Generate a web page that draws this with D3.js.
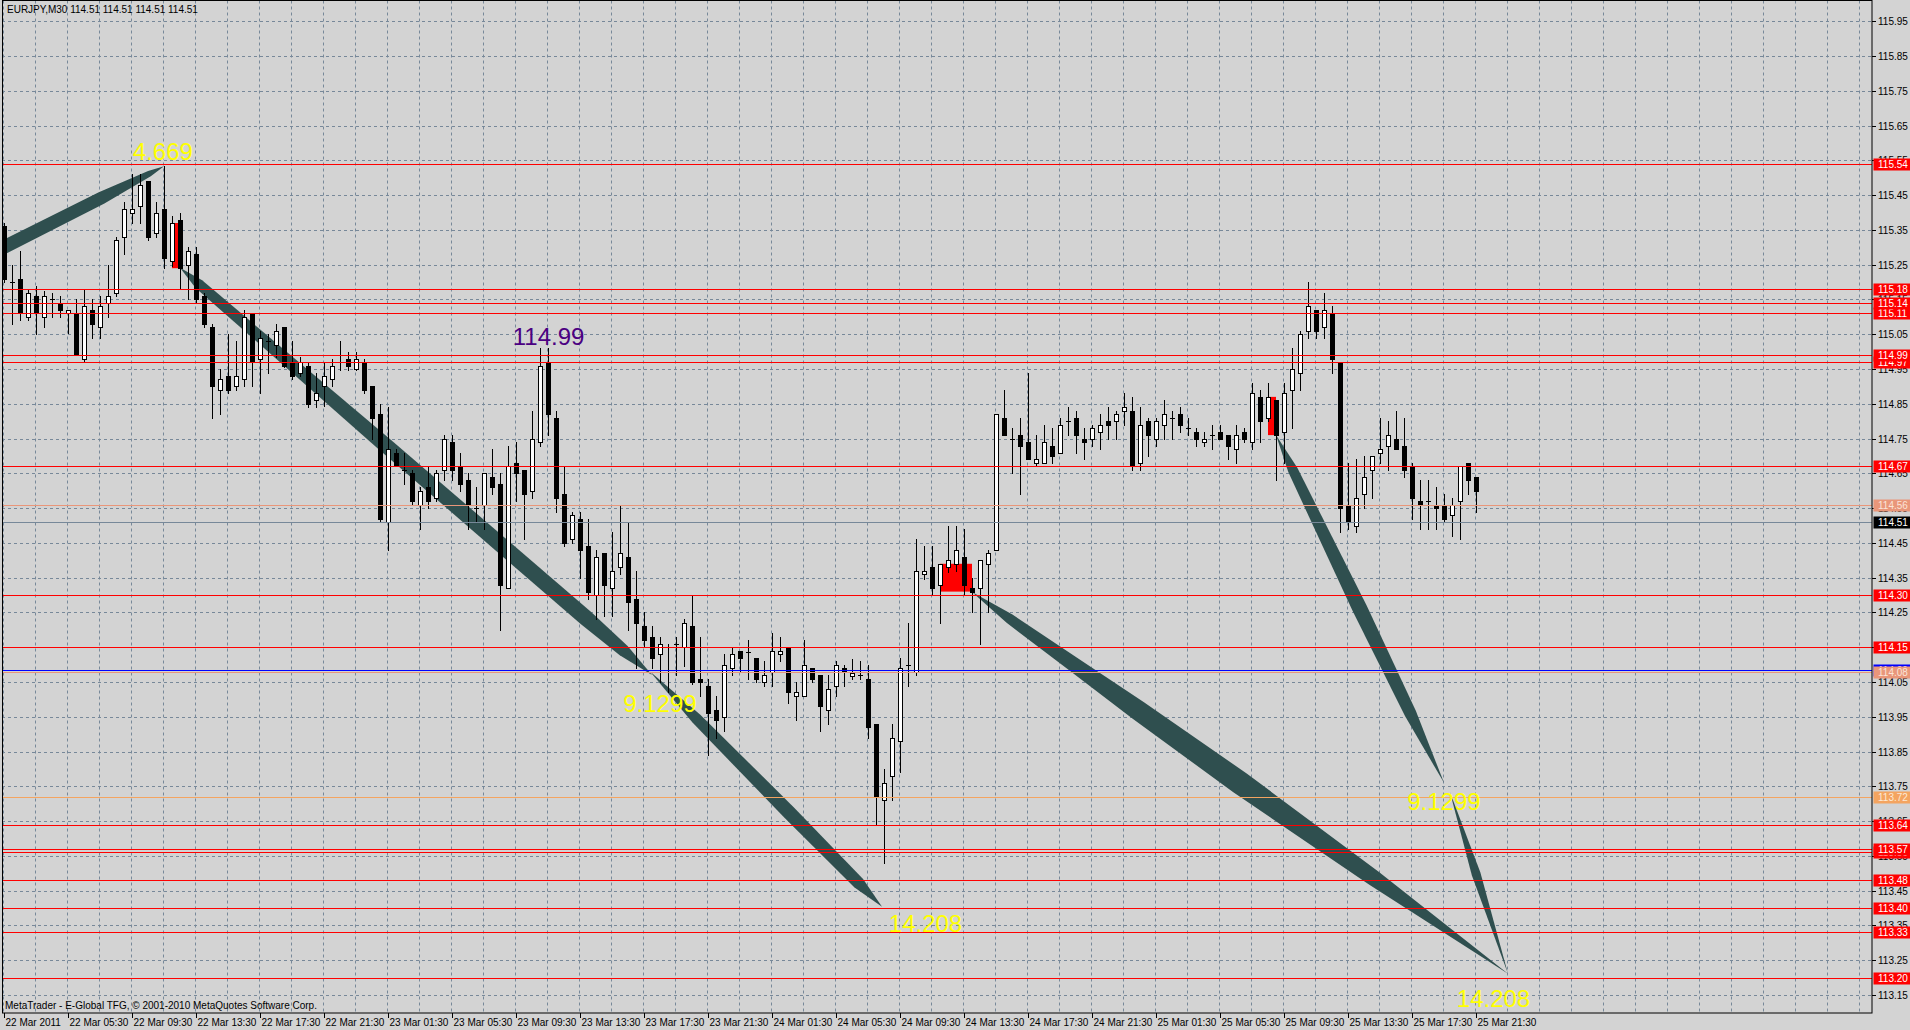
<!DOCTYPE html>
<html><head><meta charset="utf-8">
<script src="https://cdn.jsdelivr.net/npm/d3@7"></script>
<style>html,body{margin:0;padding:0;background:#d3d3d3;overflow:hidden}svg{display:block}</style>
</head><body>
<svg id="c" width="1910" height="1030"></svg>
<script>
// ---------------- DATA ----------------
const symbolTitle = "EURJPY,M30";
const quoteValues = ["114.51","114.51","114.51","114.51"];
const footerText = "MetaTrader - E-Global TFG, \u00A9 2001-2010 MetaQuotes Software Corp.";

const opens = [115.36,115.20,115.21,115.10,115.16,115.10,115.15,115.14,115.11,115.11,114.98,115.12,115.07,115.14,115.17,115.33,115.40,115.42,115.49,115.34,
115.41,115.26,115.38,115.25,115.28,115.16,115.07,114.89,114.93,114.90,114.92,115.11,114.98,115.03,115.02,115.07,114.97,114.94,114.96,114.86,
114.90,114.92,114.97,114.98,114.95,114.97,114.90,114.82,114.51,114.71,114.66,114.65,114.56,114.61,114.58,114.66,114.74,114.67,114.63,114.55,
114.56,114.64,114.62,114.32,114.68,114.66,114.60,114.74,114.97,114.81,114.59,114.46,114.52,114.44,114.30,114.42,114.32,114.38,114.41,114.29,
114.21,114.18,114.13,114.15,114.16,114.15,114.21,114.06,114.04,113.97,113.95,114.09,114.14,114.135,114.12,114.05,114.08,114.13,114.15,114.01,
114.01,114.09,114.07,113.97,114.04,114.09,114.067,114.07,114.06,113.93,113.71,113.78,113.88,114.10,114.08,114.36,114.38,114.33,114.38,114.39,
114.41,114.32,114.32,114.39,114.43,114.81,114.75,114.76,114.74,114.68,114.68,114.73,114.71,114.80,114.81,114.75,114.75,114.77,114.80,114.80,
114.83,114.83,114.68,114.80,114.75,114.79,114.81,114.82,114.78,114.77,114.74,114.76,114.77,114.76,114.72,114.77,114.74,114.87,114.81,114.86,
114.77,114.89,114.94,115.06,115.12,115.07,115.11,114.97,114.56,114.50,114.59,114.66,114.71,114.73,114.75,114.73,114.67,114.57,114.57,114.56,
114.56,114.53,114.57,114.68,114.64,114.51];
const highs = [115.37,115.25,115.29,115.18,115.19,115.175,115.17,115.16,115.12,115.15,115.18,115.15,115.16,115.25,115.33,115.43,115.51,115.51,115.49,115.43,
115.533,115.39,115.40,115.30,115.30,115.17,115.08,114.95,115.05,115.03,115.12,115.11,115.06,115.05,115.08,115.07,115.03,114.985,114.97,114.94,
114.97,114.98,115.03,115.00,115.00,114.98,114.90,114.85,114.84,114.72,114.71,114.66,114.61,114.67,114.66,114.76,114.76,114.71,114.65,114.61,
114.65,114.72,114.65,114.73,114.74,114.66,114.83,115.01,115.01,114.83,114.67,114.54,114.54,114.52,114.43,114.42,114.48,114.56,114.51,114.37,
114.25,114.21,114.18,114.16,114.18,114.23,114.30,114.18,114.06,114.01,114.13,114.15,114.14,114.17,114.12,114.11,114.19,114.18,114.15,114.05,
114.17,114.09,114.07,114.07,114.11,114.10,114.115,114.11,114.10,113.93,113.80,113.93,114.12,114.22,114.46,114.44,114.44,114.39,114.50,114.50,
114.49,114.35,114.40,114.43,114.82,114.89,114.78,114.81,114.94,114.76,114.79,114.78,114.81,114.84,114.83,114.78,114.79,114.82,114.84,114.83,
114.88,114.87,114.84,114.81,114.81,114.86,114.83,114.84,114.81,114.78,114.77,114.79,114.79,114.76,114.79,114.78,114.91,114.89,114.91,114.86,
114.91,115.01,115.06,115.20,115.12,115.17,115.13,114.97,114.68,114.69,114.70,114.70,114.81,114.80,114.83,114.81,114.68,114.63,114.63,114.61,
114.59,114.58,114.67,114.68,114.64,114.51];
const lows = [115.20,115.08,115.09,115.09,115.05,115.07,115.10,115.10,115.055,114.99,114.97,115.04,115.04,115.10,115.16,115.28,115.37,115.37,115.32,115.33,
115.24,115.245,115.18,115.15,115.14,115.07,114.81,114.82,114.88,114.89,114.90,114.90,114.88,114.94,114.985,114.955,114.92,114.93,114.84,114.84,
114.845,114.90,114.946,114.946,114.946,114.88,114.75,114.51,114.43,114.67,114.62,114.56,114.49,114.55,114.57,114.63,114.63,114.60,114.49,114.51,
114.49,114.59,114.20,114.32,114.57,114.46,114.58,114.73,114.76,114.54,114.44,114.45,114.35,114.29,114.23,114.24,114.24,114.36,114.20,114.09,
114.15,114.09,114.05,114.02,114.07,114.095,114.045,114.01,113.84,113.89,113.91,114.07,114.08,114.06,114.05,114.04,114.04,114.11,113.99,113.94,
114.01,114.05,113.91,113.93,114.01,114.04,114.06,114.06,113.89,113.64,113.53,113.71,113.79,114.04,114.07,114.345,114.30,114.22,114.365,114.37,
114.30,114.25,114.16,114.25,114.43,114.76,114.65,114.59,114.69,114.67,114.68,114.68,114.71,114.76,114.71,114.69,114.73,114.72,114.75,114.75,
114.79,114.66,114.66,114.70,114.73,114.75,114.75,114.77,114.76,114.73,114.73,114.72,114.75,114.69,114.68,114.74,114.72,114.74,114.80,114.63,
114.68,114.78,114.89,115.04,115.04,115.04,114.94,114.48,114.49,114.48,114.55,114.58,114.68,114.66,114.72,114.64,114.52,114.49,114.49,114.49,
114.51,114.47,114.46,114.59,114.54,114.51];
const closes = [115.21,115.20,115.11,115.17,115.11,115.16,115.15,115.12,115.12,114.99,115.13,115.08,115.13,115.16,115.32,115.41,115.41,115.48,115.33,115.40,
115.27,115.37,115.24,115.29,115.15,115.08,114.90,114.92,114.89,114.93,115.10,114.97,115.04,115.03,115.06,114.96,114.93,114.97,114.85,114.88,
114.93,114.96,114.97,114.96,114.98,114.89,114.81,114.52,114.72,114.67,114.66,114.57,114.60,114.57,114.65,114.75,114.66,114.62,114.56,114.55,
114.65,114.61,114.33,114.67,114.65,114.59,114.75,114.96,114.82,114.58,114.45,114.53,114.43,114.31,114.41,114.33,114.37,114.42,114.28,114.22,
114.17,114.12,114.16,114.15,114.16,114.22,114.05,114.05,113.96,113.94,114.10,114.13,114.12,114.135,114.06,114.07,114.14,114.14,114.02,114.02,
114.10,114.06,113.98,114.03,114.10,114.08,114.077,114.07,113.92,113.72,113.76,113.89,114.09,114.10,114.37,114.37,114.32,114.39,114.40,114.43,
114.33,114.31,114.40,114.42,114.82,114.76,114.75,114.73,114.69,114.69,114.74,114.70,114.79,114.80,114.76,114.74,114.78,114.79,114.79,114.82,
114.84,114.67,114.79,114.76,114.80,114.82,114.81,114.79,114.78,114.75,114.75,114.76,114.75,114.73,114.76,114.75,114.88,114.80,114.87,114.76,
114.88,114.95,115.05,115.13,115.06,115.12,114.98,114.55,114.51,114.58,114.64,114.70,114.72,114.76,114.72,114.66,114.58,114.56,114.57,114.55,
114.52,114.56,114.67,114.63,114.60,114.51];

const timeLabels = ["22 Mar 2011","22 Mar 05:30","22 Mar 09:30","22 Mar 13:30","22 Mar 17:30","22 Mar 21:30",
"23 Mar 01:30","23 Mar 05:30","23 Mar 09:30","23 Mar 13:30","23 Mar 17:30","23 Mar 21:30",
"24 Mar 01:30","24 Mar 05:30","24 Mar 09:30","24 Mar 13:30","24 Mar 17:30","24 Mar 21:30",
"25 Mar 01:30","25 Mar 05:30","25 Mar 09:30","25 Mar 13:30","25 Mar 17:30","25 Mar 21:30"];
const priceTickLabels = ["115.95","115.85","115.75","115.65","115.55","115.45","115.35","115.25","115.15","115.05",
"114.95","114.85","114.75","114.65","114.55","114.45","114.35","114.25","114.15","114.05",
"113.95","113.85","113.75","113.65","113.55","113.45","113.35","113.25","113.15"];

// horizontal level lines (listed in the order their price labels are stacked)
const levelPrices = [114.085,113.20,113.33,113.40,113.48,113.56,113.57,113.64,113.72,114.08,114.15,114.30,114.51,114.56,114.67,114.97,114.99,115.11,115.14,115.18,115.54];
const levelLabels = ["114.09","113.20","113.33","113.40","113.48","113.56","113.57","113.64","113.72","114.08","114.15","114.30","114.51","114.56","114.67","114.97","114.99","115.11","115.14","115.18","115.54"];
const levelKinds = ["b","r","r","r","r","r","r","r","o","s","r","r","bid","s","r","r","r","r","r","r","r"];

// rectangle objects: [barFrom, barTo, priceTop, priceBottom]
const rectObjects = [[21,22,115.37,115.24],[117,121,114.39,114.31],[158,159,114.87,114.76]];

// wave (triangle) objects: start [bar, price], end [bar, price]
const waveStarts = [[-6,115.231],[22,115.241],[80.75,114.08],[121,114.309],[159,114.76],[180.75,113.733]];
const waveEnds   = [[20,115.533],[81,114.07],[109.75,113.404],[188,113.211],[180,113.76],[188,113.211]];

// text objects
const textValues = ["4.669","114.99","9.1299","14.208","9.1299","14.208"];
const textAnchors = [[16.1,115.55],[63.6,115.019],[77.4,113.964],[110.6,113.33],[175.4,113.683],[181.6,113.116]];
const textKinds = ["y","p","y","y","y","y"];

// ---------------- STYLE / LAYOUT ----------------
const W = 1910, H = 1030;
const plotL = 2, plotT = 0.5, plotR = 1872, plotB = 1013;
const BG = "#d3d3d3", GRID = "#778899", WAVE = "#2f4f4f";
const kindColor = {r:"#ff0000", s:"#e9967a", bid:"#778899", b:"#0000ff", o:"#f4a460"};
const kindBox = {r:"#ff0000", s:"#e9967a", bid:"#000000", b:"#0000ff", o:"#f4a460"};
const kindText = {r:"#ffffff", s:"#fbe4d8", bid:"#ffffff", b:"#ffffff", o:"#fde9d4"};
const waveProfiles = [
  [[0,14],[0.23,13.4],[0.7,12.5],[0.86,8],[0.93,6],[1,0]],
  [[0,0],[0.04,10],[0.43,15],[0.86,16],[0.94,12],[1,0]],
  [[0,0],[0.2,11],[0.6,14],[0.9,12],[1,0]],
  [[0,0],[0.07,10],[0.19,15],[0.31,20],[0.5,23],[0.75,16],[1,0]],
  [[0,0],[0.1,10],[0.5,15],[0.8,12],[1,0]],
  [[0,0],[0.45,9],[1,0]]
];
const FONT = "'Liberation Sans', Arial, sans-serif";

const svg = d3.select("#c");
const x = d3.scaleLinear().domain([0,185]).range([4,1484]);
const y = d3.scaleLinear().domain([113.15,115.95]).range([995,21.3]);
const px = v => Math.round(v);

svg.append("rect").attr("width",W).attr("height",H).attr("fill",BG);

svg.append("defs").append("clipPath").attr("id","plot")
  .append("rect").attr("x",plotL).attr("y",plotT).attr("width",plotR-plotL).attr("height",plotB-plotT);
const plot = svg.append("g").attr("clip-path","url(#plot)");

// grid
const gridG = plot.append("g").attr("stroke",GRID).attr("stroke-width",1).attr("stroke-dasharray","3,3");
for (let b = 0; b <= 232; b += 4) {
  const gx = px(x(b)) - 0.5;
  gridG.append("line").attr("x1",gx).attr("x2",gx).attr("y1",plotT).attr("y2",plotB);
}
priceTickLabels.forEach(t => {
  const gy = px(y(+t)) + 0.5;
  gridG.append("line").attr("x1",plotL).attr("x2",plotR).attr("y1",gy).attr("y2",gy);
});

// rectangles (background objects)
plot.append("g").selectAll("rect").data(rectObjects).join("rect")
  .attr("x",d=>x(d[0])).attr("width",d=>x(d[1])-x(d[0]))
  .attr("y",d=>y(d[2])).attr("height",d=>y(d[3])-y(d[2]))
  .attr("fill","#ff0000");

// waves
const waveG = plot.append("g");
waveStarts.forEach((s,i) => {
  const e = waveEnds[i];
  const x1 = x(s[0]), y1 = y(s[1]), x2 = x(e[0]), y2 = y(e[1]);
  const dx = x2-x1, dy = y2-y1, L = Math.hypot(dx,dy);
  const nx = -dy/L, ny = dx/L;
  const prof = waveProfiles[i];
  const up = prof.map(([t,w]) => [x1+dx*t+nx*w/2, y1+dy*t+ny*w/2]);
  const dn = prof.map(([t,w]) => [x1+dx*t-nx*w/2, y1+dy*t-ny*w/2]).reverse();
  waveG.append("path").attr("d", d3.line()(up.concat(dn)) + "Z").attr("fill",WAVE);
});

// candles
const candles = plot.append("g");
opens.forEach((o,i) => {
  const c = closes[i], h = highs[i], l = lows[i];
  const cx = px(x(i));
  candles.append("line").attr("x1",cx+0.5).attr("x2",cx+0.5)
    .attr("y1",px(y(h))).attr("y2",px(y(l))+1).attr("stroke","#000").attr("stroke-width",1);
  const yt = px(y(Math.max(o,c))), yb = px(y(Math.min(o,c)));
  if (yb - yt < 1) {
    candles.append("line").attr("x1",cx-2).attr("x2",cx+3).attr("y1",yt+0.5).attr("y2",yt+0.5)
      .attr("stroke","#000").attr("stroke-width",1);
  } else if (c >= o) {
    candles.append("rect").attr("x",cx-1.5).attr("y",yt+0.5).attr("width",4).attr("height",yb-yt)
      .attr("fill","#fff").attr("stroke","#000").attr("stroke-width",1);
  } else {
    candles.append("rect").attr("x",cx-2).attr("y",yt).attr("width",5).attr("height",yb-yt+1)
      .attr("fill","#000");
  }
});

// level lines
const lvlG = plot.append("g");
levelPrices.forEach((p,i) => {
  const ly = px(y(p)) + 0.5;
  lvlG.append("line").attr("x1",plotL).attr("x2",plotR).attr("y1",ly).attr("y2",ly)
    .attr("stroke",kindColor[levelKinds[i]]).attr("stroke-width",1);
});

// text objects
textValues.forEach((t,i) => {
  plot.append("text").attr("x",x(textAnchors[i][0])).attr("y",y(textAnchors[i][1]))
    .attr("font-family",FONT).attr("font-size",24)
    .attr("fill", textKinds[i]==="y" ? "#ffff00" : "#4b0082").text(t);
});

// header & footer
svg.append("text").attr("x",7).attr("y",13).attr("font-family",FONT).attr("font-size",10).attr("fill","#000")
  .text(symbolTitle + "  " + quoteValues.join(" "));
svg.append("text").attr("x",5).attr("y",1009).attr("font-family",FONT).attr("font-size",10).attr("fill","#000")
  .text(footerText);

// frame
svg.append("rect").attr("x",plotL+0.5).attr("y",plotT).attr("width",plotR-plotL-0.5).attr("height",plotB-plotT)
  .attr("fill","none").attr("stroke","#000").attr("stroke-width",1);

// right price axis
const ax = svg.append("g");
priceTickLabels.forEach(t => {
  const ty = px(y(+t)) + 0.5;
  ax.append("line").attr("x1",plotR).attr("x2",plotR+4).attr("y1",ty).attr("y2",ty).attr("stroke","#000");
  ax.append("text").attr("x",plotR+6).attr("y",ty+3.5).attr("font-family",FONT).attr("font-size",10)
    .attr("fill","#000").text(t);
});
levelPrices.forEach((p,i) => {
  const ly = px(y(p)) + 0.5, k = levelKinds[i];
  ax.append("rect").attr("x",plotR+1.5).attr("y",ly-6).attr("width",W-plotR).attr("height",12).attr("fill",kindBox[k]);
  ax.append("text").attr("x",plotR+6).attr("y",ly+3.5).attr("font-family",FONT).attr("font-size",10)
    .attr("fill",kindText[k]).text(levelLabels[i]);
});

// bottom time axis
timeLabels.forEach((t,i) => {
  const tx = px(x(i*8)) + 0.5;
  ax.append("line").attr("x1",tx).attr("x2",tx).attr("y1",plotB).attr("y2",plotB+5).attr("stroke","#000");
  ax.append("text").attr("x",tx+1).attr("y",1026).attr("font-family",FONT).attr("font-size",10)
    .attr("fill","#000").text(t);
});
</script>
</body></html>
